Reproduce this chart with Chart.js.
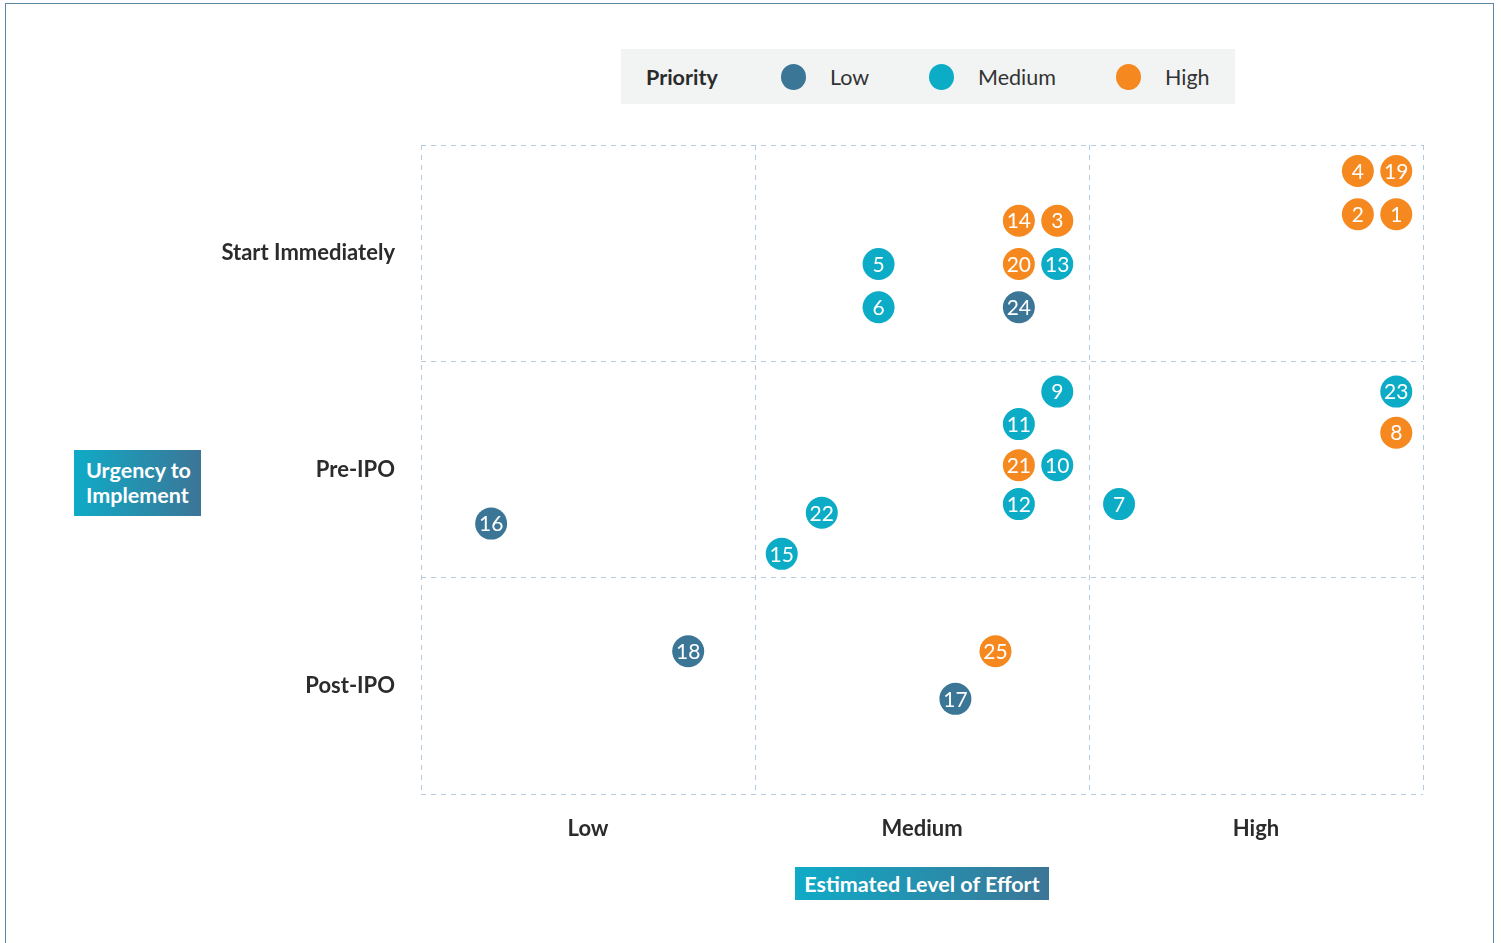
<!DOCTYPE html>
<html>
<head>
<meta charset="utf-8">
<script src="https://cdn.jsdelivr.net/npm/chart.js@4/dist/chart.umd.min.js"></script>
<style>
  body { margin: 0; background: #fff; font-family: Lato, sans-serif; }
  #wrap { position: relative; width: 1501px; height: 943px; overflow: hidden; }
  #frame { position: absolute; left: 5px; top: 3px; width: 1487px; height: 960px; border: 1px solid #5f8aa3; }
  canvas { position: absolute; left: 0; top: 0; }
  #legend { position: absolute; left: 621px; top: 49px; width: 614px; height: 55px; background: #f2f4f4;
            font-size: 21.5px; color: #333; }
  #legend span { position: absolute; top: 15px; white-space: nowrap; }
  #legend .dot { width: 25px; height: 26px; border-radius: 50%; top: 15px; }
  .axisTitle { position: absolute; color: #fff; font-weight: bold; font-size: 21.5px;
               background: linear-gradient(to right, #0fabc7, #3c7596); white-space: nowrap; }
</style>
</head>
<body>
<div id="wrap">
  <div id="frame"></div>
  <canvas id="myChart" width="1501" height="943"></canvas>
  <div id="legend"></div>
  <div class="axisTitle" style="left:74px;top:450px;width:127px;height:66px;line-height:25px;box-sizing:border-box;padding:8px 0 0 12px;">Urgency to<br>Implement</div>
  <div class="axisTitle" style="left:795px;top:867px;width:254px;height:33px;line-height:35px;text-align:center;">Estimated Level of Effort</div>
</div>
<script>
const effortLabels = ['Low', 'Medium', 'High']
const urgencyLabels = ['Post-IPO', 'Pre-IPO', 'Start Immediately']
const priorityNames = ['Low', 'Medium', 'High']
const priorityColors = ['#3b7697', '#0cacc6', '#f5891f']

// one entry per item: id, effort (x), urgency (y), priority
const pointIds  = [4, 19, 2, 1, 14, 3, 5, 20, 13, 6, 24, 9, 23, 11, 8, 21, 10, 12, 7, 22, 16, 15, 18, 25, 17]
const effortPos = [2.805, 2.92, 2.805, 2.92, 1.79, 1.905, 1.37, 1.79, 1.905, 1.37, 1.79, 1.905, 2.92, 1.79, 2.92, 1.79, 1.905, 1.79, 2.09, 1.20, 0.21, 1.08, 0.80, 1.72, 1.60]
const urgencyPos = [2.88, 2.88, 2.68, 2.68, 2.65, 2.65, 2.45, 2.45, 2.45, 2.25, 2.25, 1.86, 1.86, 1.71, 1.67, 1.52, 1.52, 1.34, 1.34, 1.30, 1.25, 1.11, 0.66, 0.66, 0.44]
const priority  = ['High', 'High', 'High', 'High', 'High', 'High', 'Medium', 'High', 'Medium', 'Medium', 'Low', 'Medium', 'Medium', 'Medium', 'High', 'High', 'Medium', 'Medium', 'Medium', 'Medium', 'Low', 'Medium', 'Low', 'High', 'Low']

function buildDatasets(){
    return priorityNames.map((name, i) => {
        const pts = []
        pointIds.forEach((id, k) => {
            if(priority[k] == name){
                pts.push({x: effortPos[k], y: urgencyPos[k], id: id})
            }
        })
        return {
            label: name,
            data: pts,
            backgroundColor: priorityColors[i],
            borderWidth: 0,
            pointRadius: 16,
            pointHoverRadius: 16
        }
    })
}

// legend built from the same arrays
const legend = document.getElementById('legend')
legend.innerHTML = '<span style="left:25px;font-weight:bold;color:#2b2b2b">Priority</span>'
const dotX = [160, 308, 495]
priorityNames.forEach((name, i) => {
    legend.innerHTML += `<span class="dot" style="left:${dotX[i]}px;background:${priorityColors[i]}"></span>` +
        `<span style="left:${dotX[i] + 49}px">${name}</span>`
})

const pointLabels = {
    id: 'pointLabels',
    afterDatasetsDraw(chart){
        const ctx = chart.ctx
        ctx.save()
        ctx.fillStyle = '#fff'
        ctx.font = '21px Lato'
        ctx.textAlign = 'center'
        ctx.textBaseline = 'middle'
        chart.data.datasets.forEach((ds, i) => {
            chart.getDatasetMeta(i).data.forEach((el, j) => {
                ctx.fillText(ds.data[j].id, el.x, el.y + 1)
            })
        })
        ctx.restore()
    }
}

const gridColor = c => (c.tick && c.tick.value % 1 === 0) ? '#b3cadf' : 'rgba(0,0,0,0)'

const config = {
    type: 'scatter',
    data: { datasets: buildDatasets() },
    options: {
        responsive: false,
        animation: false,
        events: [],
        layout: { padding: { left: 0, top: 145, right: 78, bottom: 0 } },
        plugins: { legend: { display: false }, tooltip: { enabled: false } },
        scales: {
            x: {
                min: 0, max: 3,
                afterFit: s => { s.height = 149 },
                ticks: {
                    stepSize: 0.5,
                    autoSkip: false,
                    maxRotation: 0,
                    padding: 22,
                    color: '#2b2b2b',
                    font: { family: 'Lato', size: 22, weight: 'bold' },
                    callback: v => v % 1 === 0.5 ? effortLabels[Math.floor(v)] : ''
                },
                grid: { color: gridColor, drawTicks: false, lineWidth: 1 },
                border: { display: false, dash: [5, 5] }
            },
            y: {
                min: 0, max: 3,
                afterFit: s => { s.width = 421 },
                ticks: {
                    stepSize: 0.5,
                    autoSkip: false,
                    padding: 26,
                    color: '#2b2b2b',
                    font: { family: 'Lato', size: 22, weight: 'bold' },
                    callback: v => v % 1 === 0.5 ? urgencyLabels[Math.floor(v)] : ''
                },
                grid: { color: gridColor, drawTicks: false, lineWidth: 1 },
                border: { display: false, dash: [5, 5] }
            }
        }
    },
    plugins: [pointLabels]
}

const myChart = new Chart(document.getElementById('myChart'), config)
</script>
</body>
</html>
